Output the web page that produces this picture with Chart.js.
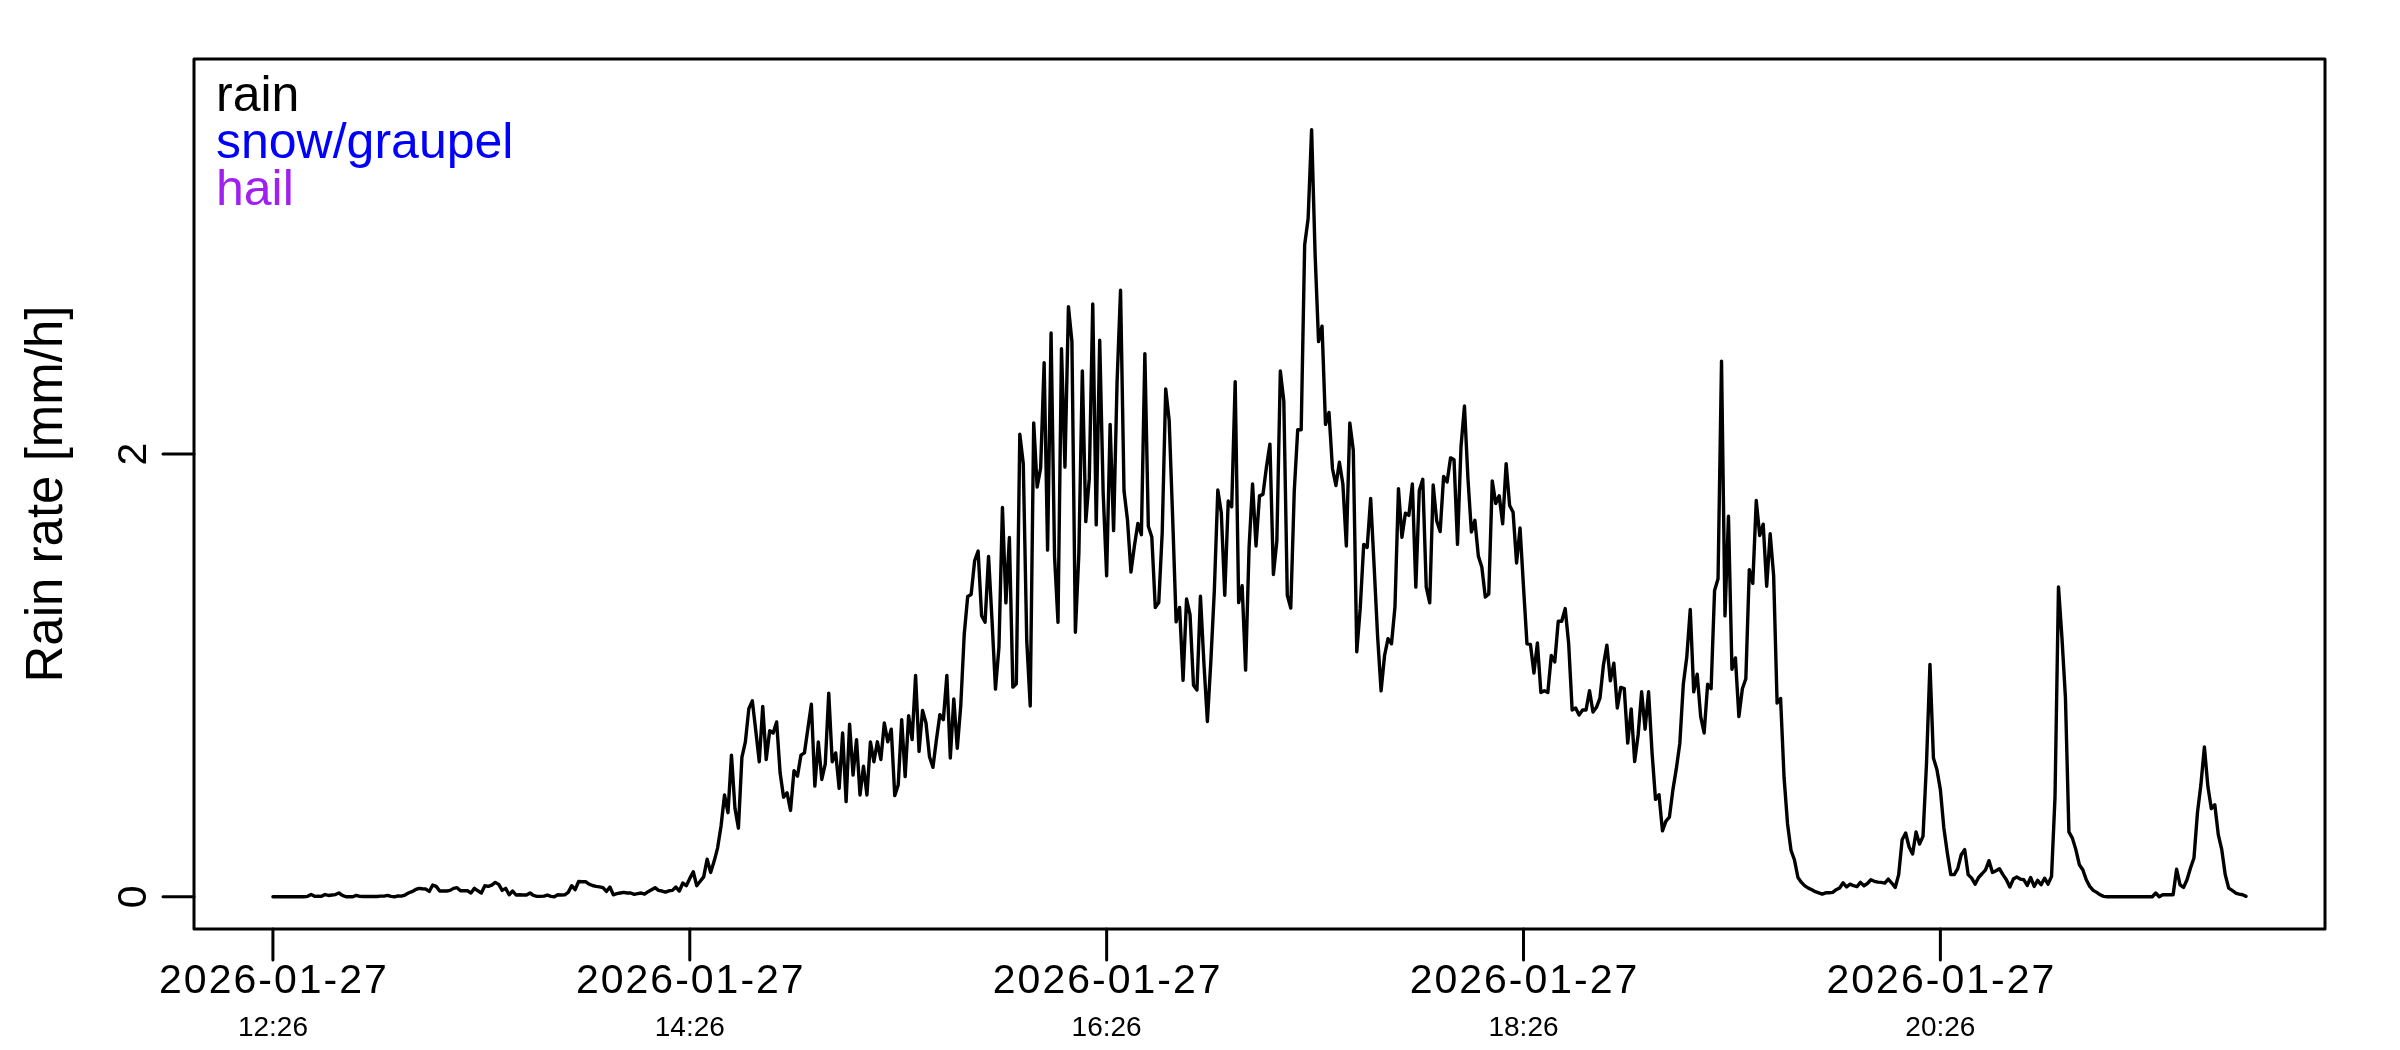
<!DOCTYPE html>
<html><head><meta charset="utf-8">
<script src="https://cdn.jsdelivr.net/npm/chart.js@4.4.1/dist/chart.umd.min.js"></script>
<style>html,body{margin:0;padding:0;background:#fff}canvas{display:block}</style>
</head><body>
<canvas id="c" width="2400" height="1050"></canvas>
<script>
// ---- data (one value per minute, starting 2026-01-27 12:26) ----
const stepMinutes = 1;
const rainRate = [
0,0,0,0,0,0,0,0,0,0,
0.002,0.01,0.002,0.003,0.002,0.01,0.006,0.008,0.01,0.017,
0.006,0,0,0,0.006,0.002,0.001,0.001,0.001,0.001,
0.001,0.003,0.003,0.006,0.002,0,0.004,0.003,0.008,0.017,
0.023,0.032,0.038,0.036,0.035,0.024,0.053,0.047,0.026,0.026,
0.026,0.029,0.038,0.041,0.027,0.027,0.027,0.017,0.038,0.027,
0.017,0.05,0.047,0.053,0.065,0.056,0.029,0.038,0.009,0.026,
0.008,0.009,0.008,0.008,0.017,0.006,0.002,0.002,0.003,0.008,
0.002,0,0.009,0.008,0.009,0.02,0.05,0.032,0.069,0.068,
0.068,0.057,0.051,0.047,0.045,0.041,0.024,0.044,0.009,0.014,
0.017,0.02,0.017,0.017,0.011,0.014,0.017,0.012,0.023,0.032,
0.041,0.029,0.026,0.021,0.027,0.029,0.044,0.026,0.062,0.05,
0.083,0.113,0.05,0.07,0.09,0.17,0.11,0.16,0.22,0.32,
0.46,0.38,0.64,0.40,0.31,0.63,0.70,0.85,0.885,0.75,
0.61,0.86,0.62,0.75,0.74,0.79,0.56,0.45,0.47,0.39,
0.57,0.545,0.64,0.65,0.76,0.87,0.50,0.70,0.53,0.60,
0.92,0.61,0.65,0.49,0.74,0.43,0.78,0.55,0.71,0.46,
0.59,0.46,0.70,0.61,0.70,0.62,0.785,0.70,0.757,0.457,
0.505,0.80,0.543,0.818,0.71,1.0,0.657,0.842,0.785,0.633,
0.585,0.71,0.823,0.80,1.0,0.627,0.894,0.671,0.862,1.185,
1.357,1.366,1.518,1.562,1.27,1.24,1.538,1.25,0.938,1.128,
1.759,1.328,1.623,0.947,0.962,2.09,1.956,1.157,0.862,2.141,
1.851,1.937,2.413,1.566,2.547,1.538,1.24,2.476,1.941,2.666,
2.509,1.195,1.55,2.376,1.695,1.889,2.678,1.68,2.514,1.823,
1.45,2.134,1.654,2.327,2.74,1.834,1.702,1.467,1.586,1.687,
1.636,2.454,1.674,1.625,1.307,1.329,1.647,2.294,2.152,1.713,
1.242,1.307,0.978,1.345,1.275,0.956,0.934,1.358,1.055,0.792,
1.066,1.384,1.838,1.735,1.362,1.788,1.762,2.327,1.329,1.405,
1.024,1.578,1.865,1.585,1.811,1.818,1.942,2.045,1.456,1.608,
2.375,2.239,1.362,1.304,1.83,2.11,2.11,2.945,3.064,3.466,
2.905,2.508,2.578,2.134,2.188,1.935,1.858,1.963,1.865,1.585,
2.141,2.017,1.107,1.304,1.592,1.578,1.8,1.493,1.176,0.93,
1.09,1.166,1.143,1.31,1.844,1.624,1.733,1.723,1.865,1.399,
1.835,1.886,1.399,1.328,1.86,1.699,1.65,1.899,1.874,1.983,
1.974,1.592,2.032,2.217,1.891,1.648,1.701,1.539,1.49,1.354,
1.368,1.879,1.777,1.812,1.685,1.957,1.768,1.737,1.508,1.666,
1.399,1.143,1.14,1.011,1.147,0.923,0.931,0.923,1.09,1.061,
1.245,1.245,1.302,1.143,0.844,0.853,0.821,0.844,0.844,0.931,
0.835,0.856,0.897,1.046,1.137,0.976,1.055,0.853,0.946,0.94,
0.694,0.849,0.611,0.732,0.926,0.757,0.926,0.651,0.44,0.461,
0.298,0.342,0.36,0.483,0.58,0.694,0.96,1.083,1.298,0.926,
1.006,0.814,0.74,0.96,0.94,1.384,1.437,2.42,1.269,1.719,
1.028,1.079,0.814,0.94,0.985,1.478,1.416,1.79,1.632,1.683,
1.403,1.64,1.452,0.875,0.896,0.54,0.33,0.21,0.166,0.087,
0.065,0.049,0.039,0.032,0.023,0.018,0.012,0.018,0.018,0.02,
0.032,0.04,0.063,0.044,0.057,0.05,0.046,0.065,0.05,0.06,
0.077,0.07,0.066,0.065,0.062,0.08,0.062,0.042,0.1,0.258,
0.288,0.225,0.193,0.293,0.238,0.273,0.6,1.05,0.627,0.575,
0.484,0.311,0.198,0.1,0.1,0.127,0.19,0.213,0.1,0.084,
0.057,0.087,0.104,0.122,0.163,0.11,0.118,0.127,0.1,0.077,
0.044,0.08,0.089,0.08,0.077,0.051,0.087,0.047,0.074,0.054,
0.084,0.057,0.092,0.45,1.40,1.17,0.90,0.293,0.265,0.213,
0.145,0.122,0.077,0.047,0.029,0.02,0.009,0.002,0,0,
0,0,0,0,0,0,0,0,0,0,
0,0,0.017,0,0.009,0.009,0.009,0.009,0.125,0.054,
0.042,0.077,0.13,0.175,0.379,0.507,0.677,0.499,0.398,0.416,
0.281,0.213,0.1,0.039,0.029,0.017,0.012,0.009,0.002
];
const snowGraupelRate = [];
const hailRate = [];
const seriesNames = ["rain", "snow/graupel", "hail"];
const seriesColors = ["#000000", "#0000FF", "#A020F0"];
const xTickMinutes = [0, 120, 240, 360, 480];
const xTickDates = ["2026-01-27", "2026-01-27", "2026-01-27", "2026-01-27", "2026-01-27"];
const xTickTimes = ["12:26", "14:26", "16:26", "18:26", "20:26"];
const yTicks = [0, 2];
const yTitle = "Rain rate [mm/h]";

// ---- chart ----
const FONT = '"Liberation Sans", Arial, Helvetica, sans-serif';
const toPoints = arr => arr.map((v, i) => ({ x: i * stepMinutes, y: v }));
const xSpan = (rainRate.length - 1) * stepMinutes;
const yTop = Math.max(...rainRate) * 1.05;

const rAxes = {
  id: 'rAxes',
  afterDraw(chart) {
    const { ctx, chartArea: a, scales: { x, y } } = chart;
    ctx.save();
    ctx.strokeStyle = '#000';
    ctx.lineWidth = 3;
    ctx.lineCap = 'round';
    ctx.lineJoin = 'round';
    ctx.strokeRect(a.left, a.top, a.right - a.left, a.bottom - a.top);
    ctx.beginPath();
    xTickMinutes.forEach(m => {
      const px = x.getPixelForValue(m);
      ctx.moveTo(px, a.bottom); ctx.lineTo(px, a.bottom + 31);
    });
    yTicks.forEach(v => {
      const py = y.getPixelForValue(v);
      ctx.moveTo(a.left, py); ctx.lineTo(a.left - 31, py);
    });
    ctx.stroke();

    ctx.fillStyle = '#000';
    ctx.textAlign = 'center';
    ctx.textBaseline = 'alphabetic';
    xTickMinutes.forEach((m, i) => {
      const px = x.getPixelForValue(m);
      ctx.font = '41px ' + FONT;
      ctx.letterSpacing = '2px';
      ctx.fillText(xTickDates[i], px + 1, 993);
      ctx.letterSpacing = '0px';
      ctx.font = '28px ' + FONT;
      ctx.fillText(xTickTimes[i], px, 1036);
    });
    yTicks.forEach(v => {
      const py = y.getPixelForValue(v);
      ctx.save();
      ctx.translate(146, py);
      ctx.rotate(-Math.PI / 2);
      ctx.font = '41px ' + FONT;
      ctx.fillText(String(v), 0, 0);
      ctx.restore();
    });
    ctx.save();
    ctx.translate(62, (a.top + a.bottom) / 2);
    ctx.rotate(-Math.PI / 2);
    ctx.font = '51px ' + FONT;
    ctx.fillText(yTitle, 0, 0);
    ctx.restore();

    ctx.textAlign = 'left';
    ctx.font = '50px ' + FONT;
    chart.data.datasets.forEach((ds, i) => {
      ctx.fillStyle = ds.borderColor;
      ctx.fillText(ds.label, 216, 111 + i * 47);
    });
    ctx.restore();
  }
};

new Chart(document.getElementById('c').getContext('2d'), {
  type: 'line',
  data: {
    datasets: [
      { label: seriesNames[0], data: toPoints(rainRate), borderColor: seriesColors[0] },
      { label: seriesNames[1], data: toPoints(snowGraupelRate), borderColor: seriesColors[1] },
      { label: seriesNames[2], data: toPoints(hailRate), borderColor: seriesColors[2] }
    ].map(d => Object.assign(d, {
      borderWidth: 3.4, pointRadius: 0, tension: 0, fill: false,
      borderJoinStyle: 'round', borderCapStyle: 'round', spanGaps: false
    }))
  },
  options: {
    responsive: false,
    animation: false,
    devicePixelRatio: 1,
    layout: { padding: { left: 194, top: 59, right: 75, bottom: 121 } },
    plugins: { legend: { display: false }, tooltip: { enabled: false } },
    scales: {
      x: { type: 'linear', min: -0.04 * xSpan, max: 1.04 * xSpan, display: false },
      y: { type: 'linear', min: -0.04 * yTop, max: 1.04 * yTop, display: false }
    }
  },
  plugins: [rAxes]
});
</script>
</body></html>
